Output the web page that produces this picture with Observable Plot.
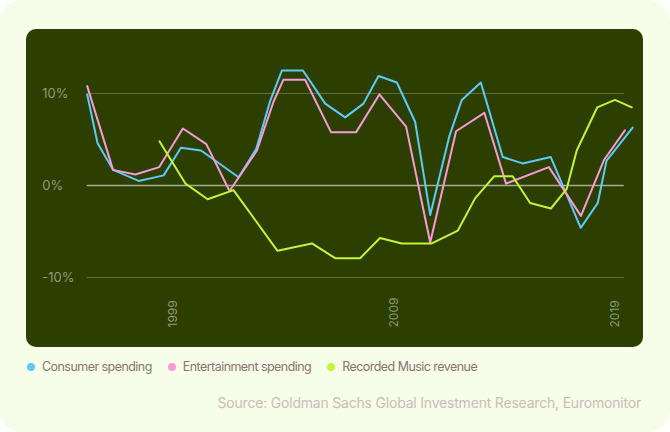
<!DOCTYPE html>
<html>
<head>
<meta charset="utf-8">
<script src="https://cdn.jsdelivr.net/npm/d3@7"></script>
<script src="https://cdn.jsdelivr.net/npm/@observablehq/plot@0.6"></script>
<style>
  html, body { margin: 0; padding: 0; background: #ffffff; }
  body { width: 670px; height: 432px; overflow: hidden; font-family: Inter, "Noto Sans", sans-serif; }
  #card { position: relative; width: 670px; height: 432px; background: #f6fde9; border-radius: 22px; }
  #panel { position: absolute; left: 26px; top: 29px; width: 617px; height: 318px; background: #2c3f00; border-radius: 10px; overflow: hidden; }
  #panel svg { display: block; background: transparent; }
  #legend { position: absolute; left: 27px; top: 359px; display: flex; gap: 16px; font-size: 12.5px; color: #8b7373; letter-spacing: -0.55px; }
  #legend span.item { display: flex; align-items: center; }
  #legend span.dot { display: inline-block; width: 8px; height: 8px; border-radius: 50%; margin-right: 7px; }
  #source { position: absolute; right: 29px; top: 394px; font-size: 14px; color: #cbbcb8; letter-spacing: -0.2px; }
</style>
</head>
<body>
<div id="card">
  <div id="panel"></div>
  <div id="legend"></div>
  <div id="source">Source: Goldman Sachs Global Investment Research, Euromonitor</div>
</div>
<script>
// Series names and colours
const seriesNames = ["Consumer spending", "Entertainment spending", "Recorded Music revenue"];
const seriesColors = ["#5ccbf7", "#f79ad6", "#c2f53a"];

// Consumer spending (x = decimal year, value = % growth)
const consumerYears = [1995.0, 1995.47, 1996.17, 1997.33, 1998.46, 1999.24, 2000.15, 2001.85, 2002.65, 2003.28, 2003.81, 2004.76, 2005.77, 2006.67, 2007.5, 2008.18, 2009.01, 2009.84, 2010.52, 2011.39, 2011.95, 2012.81, 2013.8, 2014.7, 2015.97, 2017.33, 2018.1, 2018.5, 2019.68];
const consumerValues = [9.9, 4.6, 1.7, 0.5, 1.1, 4.1, 3.8, 0.9, 4.0, 9.2, 12.5, 12.5, 8.9, 7.4, 8.9, 11.9, 11.2, 6.9, -3.2, 5.4, 9.3, 11.2, 3.1, 2.4, 3.1, -4.6, -1.9, 2.7, 6.3];

// Entertainment spending
const entertainmentYears = [1995.0, 1996.17, 1997.18, 1998.26, 1999.33, 2000.39, 2001.44, 2002.68, 2003.43, 2003.88, 2004.86, 2006.03, 2007.17, 2008.22, 2009.43, 2010.52, 2011.69, 2012.97, 2013.95, 2015.89, 2017.34, 2018.39, 2019.33];
const entertainmentValues = [10.8, 1.7, 1.2, 2.0, 6.2, 4.5, -0.6, 3.8, 9.1, 11.5, 11.5, 5.8, 5.8, 9.9, 6.4, -6.2, 5.9, 7.9, 0.2, 2.0, -3.3, 2.8, 6.0];

// Recorded Music revenue
const musicYears = [1998.27, 1999.45, 2000.45, 2001.62, 2003.61, 2005.17, 2006.22, 2007.35, 2008.25, 2009.23, 2010.59, 2011.77, 2012.55, 2013.41, 2014.25, 2015.04, 2015.98, 2016.69, 2017.15, 2018.08, 2018.88, 2019.64];
const musicValues = [4.8, 0.2, -1.5, -0.5, -7.1, -6.3, -7.9, -7.9, -5.7, -6.3, -6.3, -4.9, -1.4, 1.0, 1.0, -1.9, -2.5, -0.4, 3.8, 8.5, 9.3, 8.5];

// Axis ticks
const yTicks = [-10, 0, 10];
const yTickLabels = ["-10%", "0%", "10%"];
const xTicks = [1999, 2009, 2019];
const gridStart = 1995.0;
const gridEnd = 2019.3;

const seriesYears = [consumerYears, entertainmentYears, musicYears];
const seriesValues = [consumerValues, entertainmentValues, musicValues];
const rows = seriesNames.flatMap((name, i) =>
  seriesYears[i].map((year, j) => ({series: name, year, value: seriesValues[i][j]}))
);

const chart = Plot.plot({
  width: 617,
  height: 318,
  marginLeft: 60.7,
  marginRight: 10.4,
  marginTop: 64,
  marginBottom: 70,
  x: {domain: [1995, 2019.7], axis: null},
  y: {domain: [-10, 10], axis: null},
  color: {domain: seriesNames, range: seriesColors},
  style: {background: "transparent", fontFamily: "Inter, 'Noto Sans', sans-serif"},
  marks: [
    Plot.ruleY(yTicks.filter(d => d !== 0), {x1: gridStart, x2: gridEnd, stroke: "#5d6e3c", strokeWidth: 1}),
    Plot.ruleY([0], {x1: gridStart, x2: gridEnd, stroke: "#a3ad92", strokeWidth: 1.6}),
    Plot.text(yTicks, {y: d => d, text: (d, i) => yTickLabels[i], frameAnchor: "left", textAnchor: "start", dx: -45, fill: "#8e9a78", fontSize: 13}),
    Plot.text(xTicks, {x: d => d, text: d => String(d), frameAnchor: "bottom", rotate: -90, textAnchor: "start", dy: 50, dx: 1.5, fill: "#8e9a78", fontSize: 12}),
    Plot.line(rows, {x: "year", y: "value", z: "series", stroke: "series", strokeWidth: 2, curve: "linear"})
  ]
});
document.getElementById("panel").appendChild(chart);

const legend = document.getElementById("legend");
seriesNames.forEach((name, i) => {
  const item = document.createElement("span");
  item.className = "item";
  const dot = document.createElement("span");
  dot.className = "dot";
  dot.style.background = seriesColors[i];
  item.appendChild(dot);
  item.appendChild(document.createTextNode(name));
  legend.appendChild(item);
});
</script>
</body>
</html>
